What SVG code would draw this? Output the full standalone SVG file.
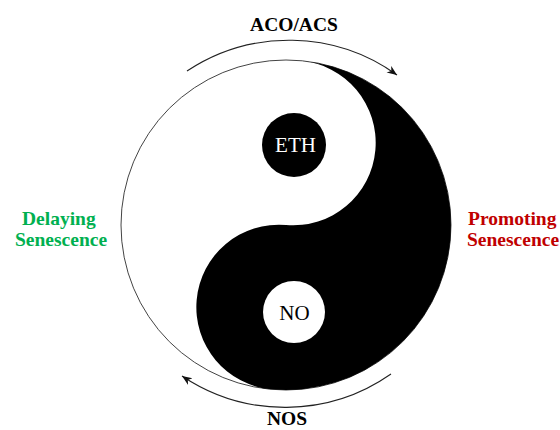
<svg xmlns="http://www.w3.org/2000/svg" width="560" height="430" viewBox="0 0 560 430">
  <style>
    .lbl { font-family: "Liberation Serif", "Times New Roman", serif; font-weight: bold; font-size: 19.5px; }
    .node-text { font-family: "Liberation Serif", "Times New Roman", serif; font-size: 21px; text-anchor: middle; }
    .conn { fill: none; stroke: #222; stroke-width: 1.1; }
  </style>
  <defs>
    <marker id="arrow" markerUnits="userSpaceOnUse" markerWidth="12" markerHeight="10" refX="10" refY="4" orient="auto">
      <path d="M0,0 L10,4 L0,8 L3,4 Z" fill="#111"/>
    </marker>
  </defs>
  <rect width="560" height="430" fill="#fff"/>

  <g id="yinyang">
    <circle cx="286" cy="225" r="165" fill="#fff" stroke="#444" stroke-width="1"/>
    <path transform="rotate(5 286 225)" d="M286,60 A165,165 0 0 1 286,390 A82.5,82.5 0 0 1 286,225 A82.5,82.5 0 0 0 286,60 Z" fill="#000"/>
  </g>

  <g id="connectors">
    <path class="conn" d="M187,71 A185,185 0 0 1 397,75" marker-end="url(#arrow)"/>
    <path class="conn" d="M391,374 A185,185 0 0 1 182,376" marker-end="url(#arrow)"/>
  </g>

  <g id="node-eth">
    <circle cx="294" cy="145" r="32" fill="#000"/>
    <text class="node-text" x="295.5" y="152" fill="#fff">ETH</text>
  </g>
  <g id="node-no">
    <circle cx="294" cy="312" r="31" fill="#fff"/>
    <text class="node-text" x="294.5" y="319.5" fill="#000">NO</text>
  </g>

  <g id="label-aco">
    <text class="lbl" x="294" y="31" text-anchor="middle" fill="#000">ACO/ACS</text>
  </g>
  <g id="label-nos">
    <text class="lbl" x="287" y="425" text-anchor="middle" fill="#000">NOS</text>
  </g>
  <g id="label-delaying">
    <text class="lbl" fill="#00b050"><tspan x="22" y="225">Delaying</tspan><tspan x="15" y="246">Senescence</tspan></text>
  </g>
  <g id="label-promoting">
    <text class="lbl" fill="#c00000"><tspan x="468" y="225">Promoting</tspan><tspan x="467" y="246">Senescence</tspan></text>
  </g>
</svg>
